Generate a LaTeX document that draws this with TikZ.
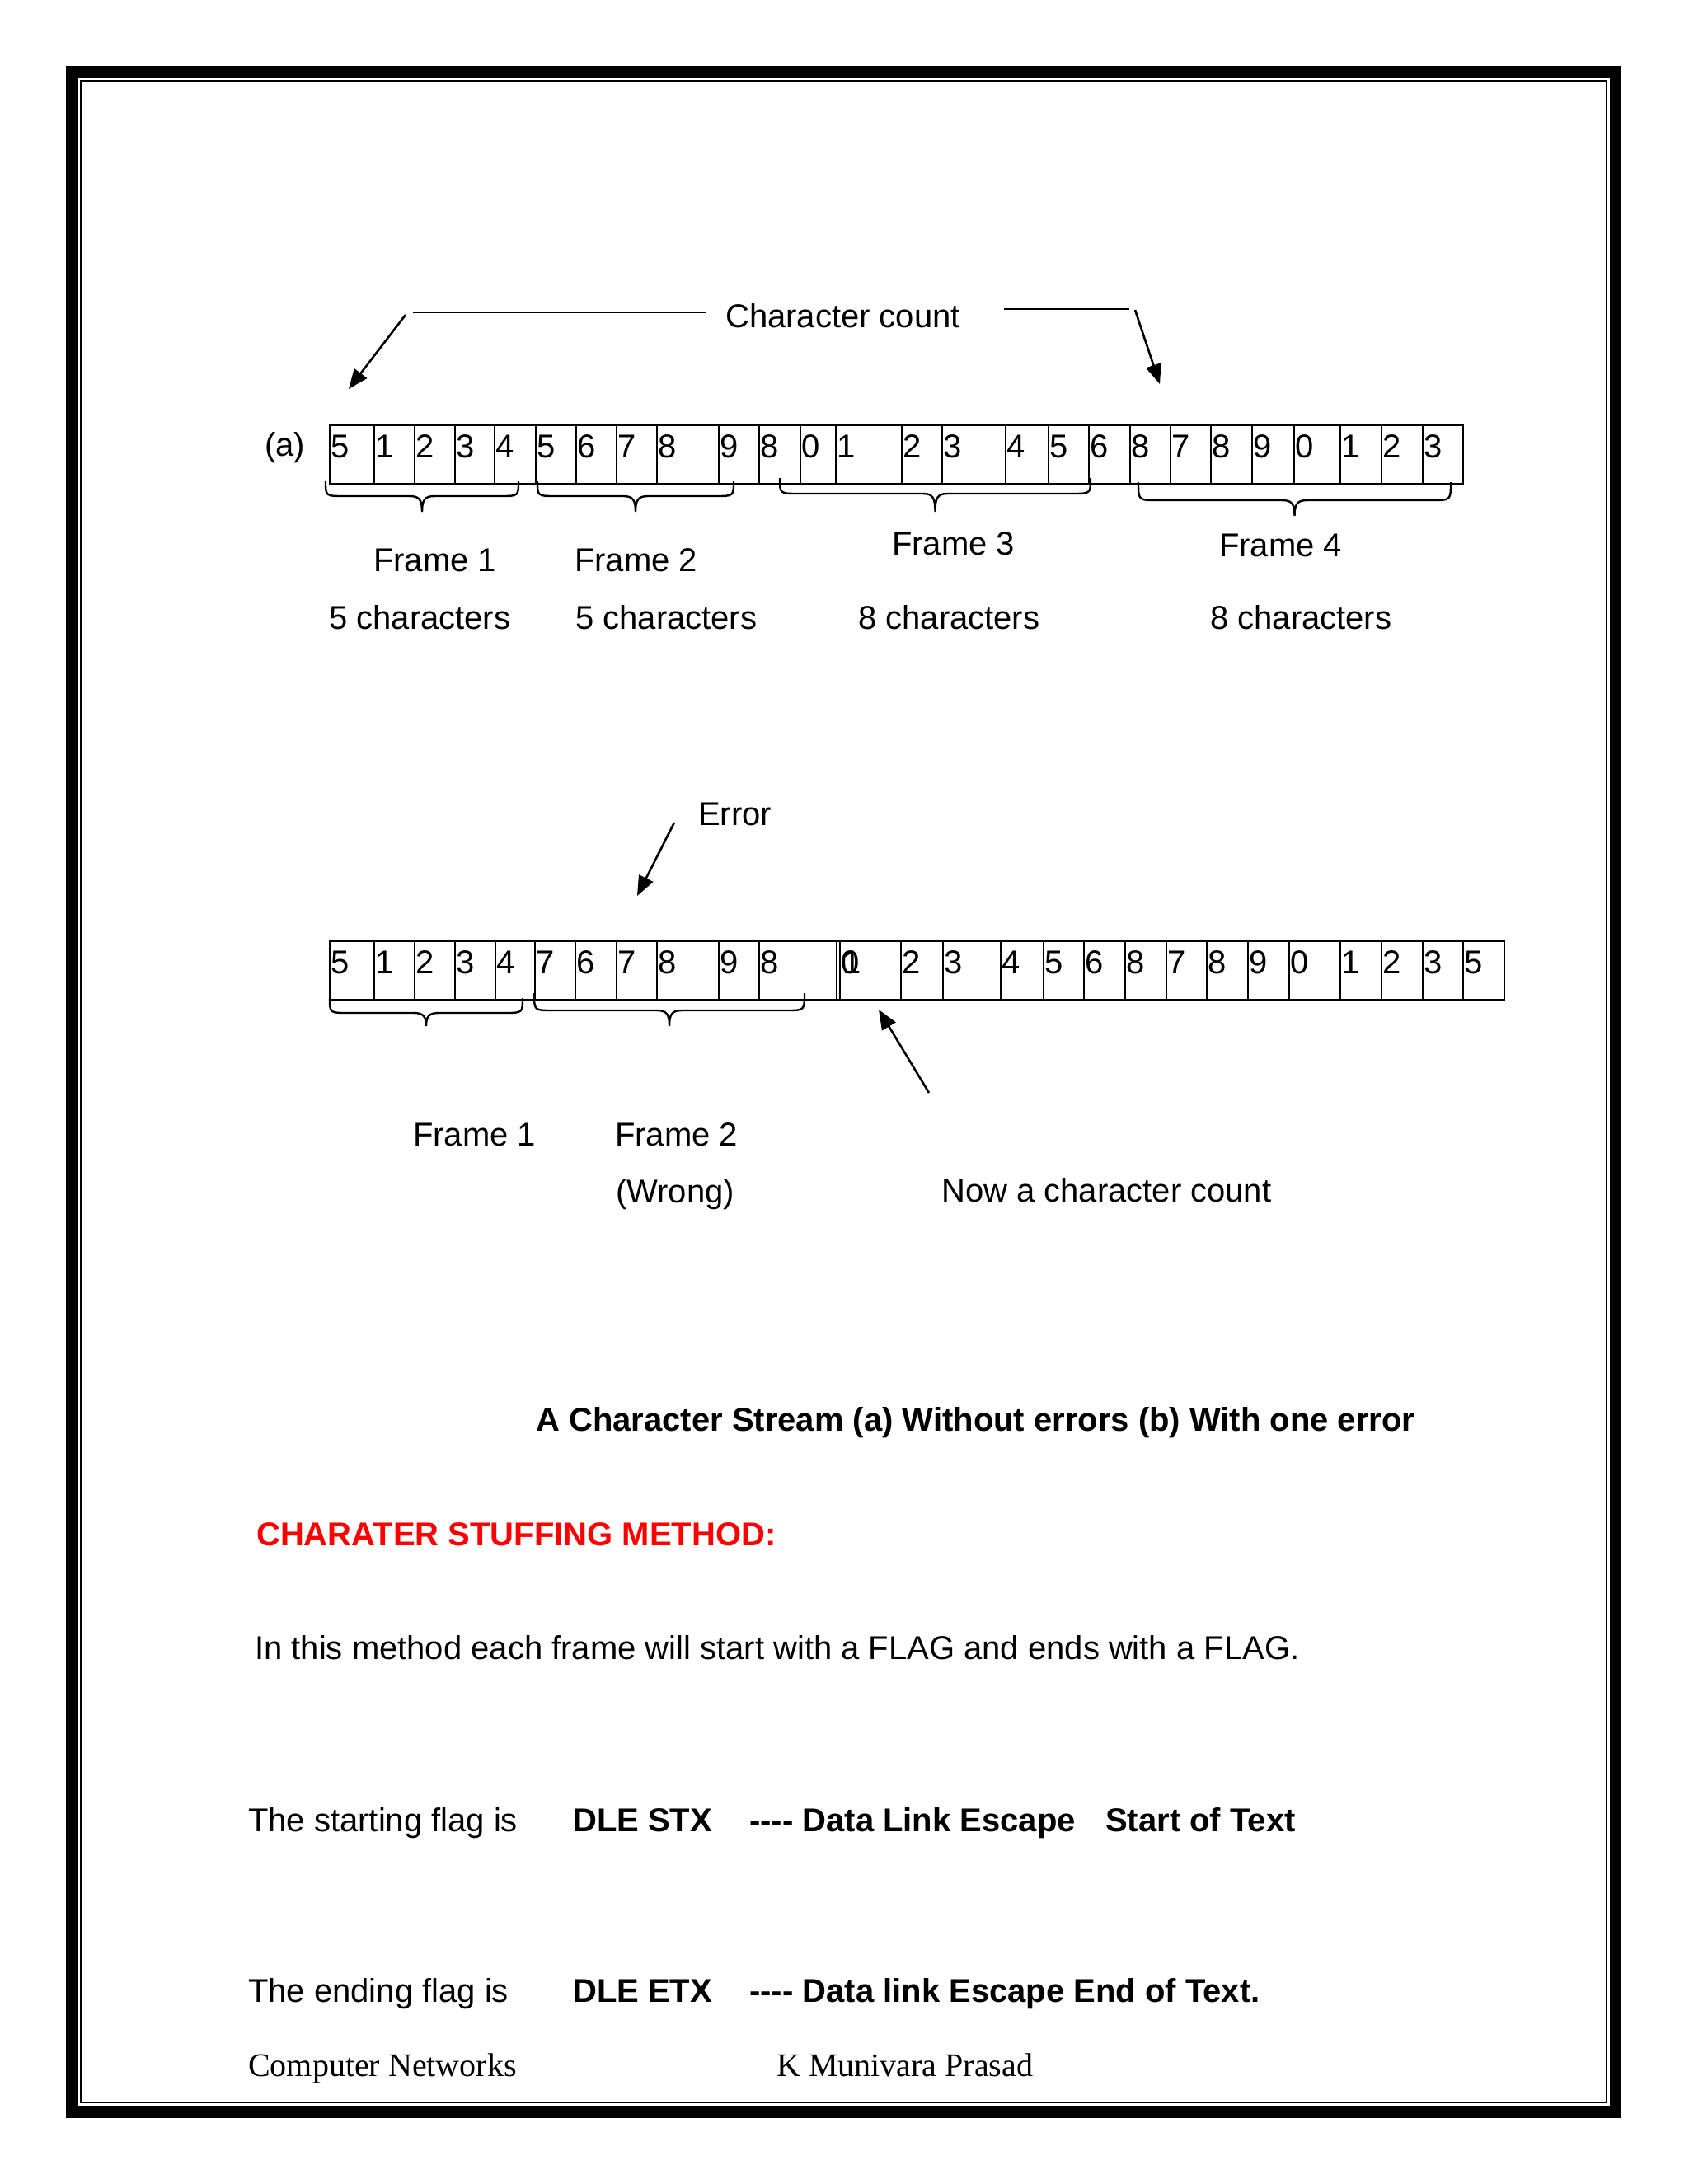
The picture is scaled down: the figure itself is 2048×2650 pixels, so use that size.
\documentclass[tikz,border=0pt]{standalone}
\usepackage{fontspec}
\setmainfont{Liberation Sans}
\newfontfamily\timesfont{Liberation Serif}
\usetikzlibrary{arrows.meta}
\tikzset{
  cellbox/.style={draw, line width=2pt, minimum height=71pt, inner sep=0pt, outer sep=0pt, anchor=north west},
  dig/.style={anchor=base west, inner sep=0pt, font=\fontsize{40}{48}\selectfont},
  txt/.style={anchor=base west, inner sep=0pt, font=\fontsize{40}{48}\selectfont},
  ln/.style={line width=2.6pt},
  arr/.style={line width=2.6pt, -{Triangle[length=24pt,width=19pt]}},
  brc/.style={line width=2.4pt},
}
\newcommand{\wbrace}[5]{%
  \pgfmathsetmacro{\bxm}{(#1+#2)/2}%
  \draw[brc] (#1,#3) .. controls (#1,#4) and (#1,#4) .. (#1+22,#4)
    -- (\bxm-15,#4) .. controls (\bxm-3,#4) and (\bxm,#4+5) .. (\bxm,#5)
    .. controls (\bxm,#4+5) and (\bxm+3,#4) .. (\bxm+15,#4)
    -- (#2-22,#4) .. controls (#2,#4) and (#2,#4) .. (#2,#3);
}
\begin{document}
\begin{tikzpicture}[x=1pt,y=-1pt]
\useasboundingbox (0,0) rectangle (2048,2650);
% page border
\draw[line width=14.5pt] (87.5,87.5) rectangle (1960,2562.5);
\draw[line width=2.2pt] (98.5,98.5) rectangle (1949,2551);

% ---------- row (a) ----------
\node[txt] (lbla) at (321,553) {(a)};
\foreach \xa/\xb/\d [count=\i] in {400/454/5,454/503/1,503/552/2,552/600/3,600/650/4,650/699/5,699/748/6,748/797/7,797/872/8,872/921/9,921/971/8,971/1014/0,1014/1094/1,1094/1143/2,1143/1220/3,1220/1272/4,1272/1321/5,1321/1371/6,1371/1420/8,1420/1469/7,1469/1519/8,1519/1570/9,1570/1626/0,1626/1676/1,1676/1726/2,1726/1775/3}{
  \node[cellbox, minimum width={\xb pt-\xa pt}] (a\i) at (\xa,516) {};
  \node[dig] (da\i) at ([xshift=1pt,yshift=-39pt]a\i.north west) {\d};
}
\wbrace{395}{629}{584}{602}{621}
\wbrace{652}{890}{584}{602}{621}
\wbrace{946}{1323}{580}{599}{621}
\wbrace{1381}{1760}{585}{607}{626}

% character count annotation
\node[txt] (cc) at (880,397) {Character count};
\coordinate (l1a) at (501,379); \coordinate (l1b) at (857,379);
\coordinate (l2a) at (1218,375); \coordinate (l2b) at (1370,375);
\draw[ln] (l1a) -- (l1b);
\draw[ln] (l2a) -- (l2b);
\coordinate (ar1s) at (492,382); \coordinate (ar1e) at (423,472);
\coordinate (ar2s) at (1377,376); \coordinate (ar2e) at (1407,466);
\draw[arr] (ar1s) -- (ar1e);
\draw[arr] (ar2s) -- (ar2e);

% frame labels (a)
\node[txt] (fa1) at (453,693) {Frame 1};
\node[txt] (ca1) at (399,763) {5 characters};
\node[txt] (fa2) at (697,693) {Frame 2};
\node[txt] (ca2) at (698,763) {5 characters};
\node[txt] (fa3) at (1082,673) {Frame 3};
\node[txt] (ca3) at (1041,763) {8 characters};
\node[txt] (fa4) at (1479,675) {Frame 4};
\node[txt] (ca4) at (1468,763) {8 characters};

% ---------- row (b) ----------
\foreach \xa/\xb/\d [count=\i] in {400/454/5,454/503/1,503/552/2,552/601/3,601/649/4,649/698/7,698/748/6,748/797/7,797/872/8,872/921/9,921/1015/8,1015/1019/{},1019/1093/{\rlap{0}\kern2pt 1},1093/1144/2,1144/1214/3,1214/1266/4,1266/1315/5,1315/1365/6,1365/1415/8,1415/1464/7,1464/1514/8,1514/1564/9,1564/1626/0,1626/1676/1,1676/1726/2,1726/1775/3,1775/1825/5}{
  \node[cellbox, minimum width={\xb pt-\xa pt}] (b\i) at (\xa,1142) {};
  \node[dig] (db\i) at ([xshift=1pt,yshift=-39pt]b\i.north west) {\d};
}
\wbrace{400}{634}{1211}{1229}{1245}
\wbrace{648}{976}{1205}{1226}{1245}

\node[txt] (err) at (847,1001) {Error};
\coordinate (ar3s) at (818,998); \coordinate (ar3e) at (773,1087);
\draw[arr] (ar3s) -- (ar3e);
\coordinate (ar4s) at (1127,1326); \coordinate (ar4e) at (1066,1225);
\draw[arr] (ar4s) -- (ar4e);

\node[txt] (fb1) at (501,1390) {Frame 1};
\node[txt] (fb2) at (746,1390) {Frame 2};
\node[txt] (wrong) at (747,1459) {(Wrong)};
\node[txt] (now) at (1142,1458) {Now a character count};

% ---------- text below ----------
\node[txt, font=\fontsize{40}{48}\selectfont\bfseries] (cap) at (650,1736) {A Character Stream (a) Without errors (b) With one error};
\node[txt, font=\fontsize{40}{48}\selectfont\bfseries, text=red] (head) at (311,1875) {CHARATER STUFFING METHOD:};
\node[txt] (para) at (309,2013) {In this method each frame will start with a FLAG and ends with a FLAG.};

\node[txt] (s1) at (301,2222) {The starting flag is};
\node[txt, font=\fontsize{40}{48}\selectfont\bfseries] (s2) at (695,2222) {DLE STX};
\node[txt, font=\fontsize{40}{48}\selectfont\bfseries] (s3) at (909,2222) {-{}-{}-{}- Data Link Escape};
\node[txt, font=\fontsize{40}{48}\selectfont\bfseries] (s4) at (1341,2222) {Start of Text};

\node[txt] (e1) at (301,2429) {The ending flag is};
\node[txt, font=\fontsize{40}{48}\selectfont\bfseries] (e2) at (695,2429) {DLE ETX};
\node[txt, font=\fontsize{40}{48}\selectfont\bfseries] (e3) at (909,2429) {-{}-{}-{}- Data link Escape End of Text.};

\node[txt, font=\fontsize{40}{48}\selectfont\timesfont] (foot1) at (301,2519) {Computer Networks};
\node[txt, font=\fontsize{40}{48}\selectfont\timesfont] (foot2) at (942,2519) {K Munivara Prasad};
\end{tikzpicture}
\end{document}
